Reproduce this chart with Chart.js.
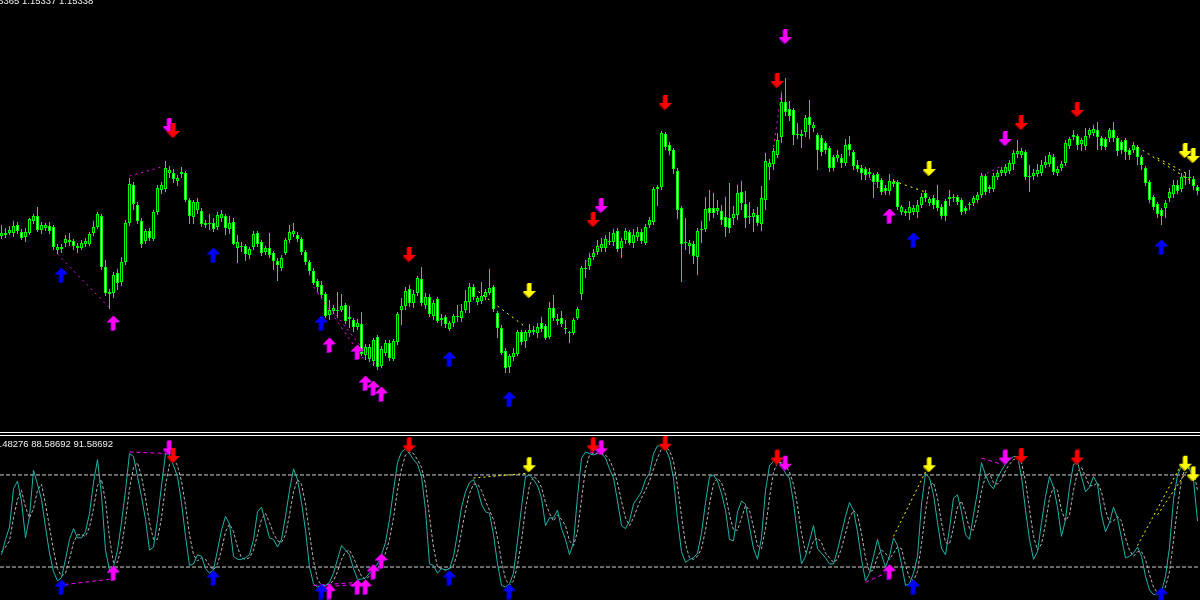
<!DOCTYPE html>
<html>
<head>
<meta charset="utf-8">
<script src="https://cdn.jsdelivr.net/npm/chart.js@4.4.0/dist/chart.umd.min.js"></script>
<style>
  html, body { margin: 0; padding: 0; background: #000; overflow: hidden; }
  #wrap { position: relative; width: 1200px; height: 600px; overflow: hidden; }
  #mainChart { position: absolute; left: 0; top: 0; }
  #sep { position: absolute; left: 0; top: 432px; width: 1200px; height: 2px; border-top: 1px solid #fff; border-bottom: 1px solid #fff; }
  #stochChart { position: absolute; left: 0; top: 436px; }
  .info { position: absolute; color: #f0f0f0; font: 9.5px 'Liberation Sans', sans-serif; line-height: 10px; white-space: pre; }
</style>
</head>
<body>
<div id="wrap">
  <canvas id="mainChart" width="1200" height="432"></canvas>
  <div id="sep"></div>
  <canvas id="stochChart" width="1200" height="164"></canvas>
  <div class="info" id="priceInfo" style="left:-15px; top:-4px;"></div>
  <div class="info" id="stochInfo" style="left:-11px; top:439px;"></div>
</div>
<script>
// price bars (points above the window floor), one per bar, oldest first
var open = [
  214,215,217,217,225,218,213,217,229,234, 220,222,224,223,200,201,207,208,209,202,
  202,206,206,217,223,234,183,156,157,177, 168,188,227,265,245,229,209,219,211,238,
  260,261,277,277,269,276,277,250,233,240, 239,225,226,227,223,232,234,221,228,202,
  203,204,195,203,217,208,198,202,197,189, 182,197,210,216,215,211,198,188,179,169,
  165,156,135,139,139,140,145,131,130,123, 126,95,91,89,113,84,97,107,91,108,
  140,144,161,147,157,171,145,153,134,151, 130,133,121,127,133,132,140,148,163,148,
  149,153,157,163,137,122,99,83,93,96, 118,109,117,118,117,127,124,113,142,129,
  132,121,117,117,132,156,181,184,193,198, 202,202,208,208,219,202,210,218,207,213,
  218,207,225,228,261,263,316,305,300,279, 242,207,204,206,193,220,221,242,242,239,
  239,233,232,232,235,258,246,233,233,235, 226,250,283,286,295,313,348,341,340,315,
  314,318,333,322,315,312,307,302,293,292, 292,287,306,298,285,282,281,278,275,276,
  270,262,259,266,268,238,237,237,238,238, 245,257,247,252,250,243,249,251,252,253,
  250,242,245,247,250,255,274,261,261,273, 277,277,279,286,296,295,298,273,274,276,
  277,285,286,293,277,282,287,304,313,314, 306,304,315,317,320,312,311,312,320,312,
  308,310,300,300,303,293,282,268,253,246, 240,242,252,256,265,261,272,272,271,263
];
var high = [
  225,222,224,229,228,221,222,232,236,243, 228,227,228,225,206,206,215,217,211,207,
  210,212,218,229,238,236,190,161,178,181, 193,230,272,268,248,232,221,222,240,265,
  268,289,284,281,275,283,279,252,250,252, 242,230,236,232,238,240,236,234,232,215,
  208,206,203,219,219,210,204,217,199,192, 195,212,225,227,218,213,200,190,182,171,
  169,158,150,145,158,156,147,144,132,131, 138,106,106,112,115,104,110,110,111,138,
  152,163,165,160,174,183,157,156,150,153, 136,135,129,136,145,146,160,167,166,154,
  168,161,181,165,139,125,102,96,102,120, 120,120,126,124,127,133,126,148,155,136,
  139,130,119,132,143,184,190,197,201,210, 212,215,218,221,222,212,222,220,221,223,
  221,226,233,263,265,319,318,308,302,282, 244,232,210,209,222,229,253,260,257,250,
  245,253,267,244,265,269,259,248,241,243, 264,297,291,302,317,358,372,349,342,327,
  320,335,350,328,317,315,309,304,295,300, 296,311,314,300,290,285,283,282,277,278,
  272,265,276,271,270,245,241,249,245,250, 257,260,253,255,265,246,251,260,256,255,
  252,244,248,254,258,277,276,265,277,280, 283,286,290,300,310,302,300,285,281,286,
  290,294,298,296,284,289,310,313,320,316, 312,322,322,325,328,314,313,322,328,314,
  310,312,302,308,305,295,284,270,255,248, 242,250,262,270,270,277,277,280,274,265
];
var low = [
  211,212,215,213,216,210,208,215,226,218, 216,219,216,200,196,197,203,204,200,197,
  200,203,204,214,221,180,154,141,152,160, 164,185,224,240,226,202,206,209,209,235,
  256,258,272,267,264,272,248,226,226,236, 223,222,220,218,220,228,215,216,205,187,
  198,189,191,200,203,194,195,192,180,169, 179,195,207,213,208,195,185,175,165,158,
  152,132,130,136,132,138,126,122,118,120, 94,90,88,84,80,82,94,89,89,105,
  125,140,143,142,154,144,141,133,130,127, 124,122,119,123,128,128,137,137,150,145,
  146,150,155,138,112,95,77,77,89,94, 105,102,113,115,112,118,110,111,129,125,
  123,116,107,115,130,150,172,180,190,195, 198,198,205,204,198,192,206,205,202,209,
  206,205,222,225,244,260,300,295,276,231, 168,200,196,186,175,207,218,229,232,235,
  225,213,217,225,230,240,222,226,218,224, 219,240,270,280,292,307,334,329,305,311,
  302,313,311,318,280,294,296,278,279,288, 282,284,294,280,278,270,270,272,252,262,
  255,255,255,263,240,235,234,230,235,232, 242,248,244,241,239,231,229,244,248,245,
  235,236,240,244,247,252,255,257,258,270, 274,274,276,280,292,292,270,258,270,273,
  274,282,283,275,274,279,284,301,310,300, 299,300,312,314,300,300,300,308,308,294,
  296,290,290,297,285,280,264,247,240,232, 225,232,248,252,256,258,265,266,260,255
];
var close = [
  217,217,220,224,219,212,218,231,234,220, 225,225,219,203,203,203,211,210,204,204,
  207,209,216,223,236,183,157,158,175,167, 188,227,266,246,229,206,219,212,238,262,
  265,282,280,271,272,278,250,234,248,248, 226,227,227,221,235,236,222,227,206,208,
  204,196,201,216,206,197,202,195,189,185, 192,210,218,219,211,198,188,179,167,163,
  155,134,140,142,140,144,129,133,123,127, 96,103,103,110,83,101,107,92,109,136,
  144,159,147,156,172,147,153,136,147,129, 132,126,127,134,134,139,149,163,153,152,
  154,158,162,141,122,97,82,94,97,118, 108,118,120,120,123,121,112,142,132,131,
  126,122,118,130,141,182,182,192,197,204, 206,211,209,217,201,209,219,207,215,218,
  209,223,230,261,263,317,303,299,281,240, 206,208,207,194,219,221,241,237,237,242,
  230,223,222,236,257,247,232,234,237,227, 252,289,287,299,310,348,338,334,315,316,
  316,332,325,325,300,298,300,282,282,295, 287,305,300,284,281,277,275,276,268,268,
  258,259,269,268,243,243,239,243,242,245, 253,252,251,245,242,234,234,253,253,248,
  238,239,246,252,255,274,258,263,274,277, 280,283,287,297,299,299,273,274,277,280,
  285,288,295,278,281,286,307,311,315,305, 310,314,320,321,313,304,303,320,312,299,
  300,298,295,305,293,285,267,250,243,236, 234,247,258,265,259,273,273,273,264,259
];

// stochastic main (%K) and signal (%D) lines, per bar
var stochK = [
  28,38,46,71,76,63,39,53,83,74, 64,46,29,17,11,13,25,38,45,39,
  39,43,55,75,90,67,31,18,20,31, 49,70,94,92,79,66,51,31,33,51,
  73,94,93,86,79,62,40,21,22,28, 27,19,16,18,31,44,53,48,27,25,
  25,26,28,38,56,59,49,39,38,33, 38,53,70,84,77,62,44,20,9,7,
  8,8,10,16,25,34,31,28,19,12, 12,13,16,19,22,28,36,51,70,88,
  95,97,94,90,87,79,57,22,21,16, 19,18,19,27,42,59,69,75,77,71,
  61,56,55,41,22,8,7,9,16,37, 59,79,80,77,73,65,47,52,52,57,
  45,38,28,36,66,91,95,94,93,94, 94,91,84,78,63,47,45,50,61,65,
  69,77,81,94,99,99,97,91,78,51, 30,23,25,26,29,42,62,79,80,76,
  68,57,38,37,56,63,61,46,32,25, 39,70,86,89,89,87,81,78,62,41,
  22,27,37,47,32,29,26,22,22,31, 42,53,62,57,43,25,11,16,27,38,
  28,20,27,39,34,22,8,9,16,27, 61,81,78,67,49,32,28,45,65,67,
  56,41,38,54,69,88,80,74,71,78, 83,87,90,92,92,79,57,38,25,30,
  49,66,79,72,59,40,51,72,87,88, 79,69,72,79,74,54,43,49,59,52,
  39,26,27,29,33,27,14,5,2,2, 4,14,33,64,80,86,88,84,77,50
];
var stochD = [
  30,33,37,52,64,70,59,52,58,70, 74,61,46,31,19,14,16,25,36,41,
  41,40,46,58,73,77,63,39,23,23, 33,50,71,85,88,79,65,49,38,38,
  52,73,87,91,86,76,60,41,28,24, 26,25,21,18,22,31,43,48,43,33,
  26,25,26,31,41,51,55,49,42,37, 36,41,54,69,77,74,61,42,24,12,
  8,8,9,11,17,25,30,31,26,20, 14,12,14,16,19,23,29,38,52,70,
  84,93,95,94,90,85,74,53,33,20, 19,18,19,21,29,43,57,68,74,74,
  70,63,57,51,39,24,12,8,11,21, 37,58,73,79,77,72,62,55,50,54,
  51,47,37,34,43,64,84,93,94,94, 94,93,90,84,75,63,52,47,52,59,
  65,70,76,84,91,97,98,96,89,73, 53,35,26,25,27,32,44,61,74,78,
  75,67,54,44,44,52,60,57,46,34, 32,45,65,82,88,88,86,82,74,60,
  42,30,29,37,39,36,29,26,23,25, 32,42,52,57,54,42,26,17,18,27,
  31,29,25,29,33,32,21,13,11,17, 35,56,73,75,65,49,36,35,46,59,
  63,55,45,44,54,70,79,81,75,74, 77,83,87,90,91,88,76,58,40,31,
  35,48,65,72,70,57,50,54,70,82, 85,79,73,73,75,69,57,49,50,53,
  50,39,31,27,30,30,25,15,7,3, 3,7,17,37,59,77,85,86,83,70
];
var stochLevels = [80, 20];

// signal arrows: [bar, price] on the price window
var blueUp = [[15,175],[53,195],[80,127],[112,91],[127,51],[228,210],[290,203]];
var pinkUp = [[28,127],[82,105],[89,98],[91,67],[93,62],[95,56],[222,234]];
var redDown = [[43,320],[102,196],[148,231],[166,348],[194,370],[255,328],[269,341]];
var pinkDown = [[42,325],[150,245],[196,414],[251,312]];
var yellowDown = [[132,160],[232,282],[296,300],[298,295]];

// the same signals on the stochastic window: [bar, value]
var stBlueUp = [[15,7],[53,13],[80,4],[112,13],[127,4],[228,7],[290,2]];
var stPinkUp = [[28,16],[82,4],[89,7],[91,7],[93,17],[95,24],[222,17]];
var stRedDown = [[43,93],[102,100],[148,100],[166,101],[194,92],[255,93],[269,92]];
var stPinkDown = [[42,98],[150,98],[196,88],[251,92]];
var stYellowDown = [[132,87],[232,87],[296,88],[298,81]];

// divergence segments
var pinkLines = [[[14,196],[27,142]], [[32,274],[40,283]], [[78,163],[94,83]], [[79,157],[91,88]],
                 [[146,188],[150,206]], [[193,303],[195,358]], [[216,275],[221,257]], [[245,274],[250,284]]];
var yellowLines = [[[118,162],[131,123]], [[223,269],[231,258]], [[284,303],[299,265]], [[289,292],[297,275]]];
var stPinkLines = [[[32,95],[41,94]], [[14,8],[27,12]], [[78,8],[89,10]], [[80,7],[91,9]],
                   [[147,95],[150,94]], [[216,10],[221,16]], [[245,91],[250,87]]];
var stYellowLines = [[[118,78],[131,81]], [[223,40],[231,82]], [[284,34],[295,87]], [[289,54],[297,85]]];

var priceText = '1.15365 1.15337 1.15338';
var stochText = '86.48276 88.58692 91.58692';

document.getElementById('priceInfo').textContent = priceText;
document.getElementById('stochInfo').textContent = stochText;

// chunky pixel arrow like the terminal's wingdings glyph, with a darker edge
function makeArrow(color, shade, up) {
    var c = document.createElement('canvas');
    c.width = 14; c.height = 16;
    var g = c.getContext('2d');
    var rows = [[5,2],[4,4],[3,6],[2,8],[1,10],[0,12],[4,4],[4,4],[4,4],[4,4],[4,4],[4,4],[4,4],[4,4]];
    function paint(col, dx, dy) {
        g.fillStyle = col;
        rows.forEach(function (r, k) {
            var y = up ? k : rows.length - 1 - k;
            g.fillRect(r[0] + dx, y + dy + 1, r[1], 1);
        });
    }
    paint(shade, 0, 1);
    paint(color, 1, 0);
    return c;
}

var imgBlueUp = makeArrow('#0000ff', '#0000a0', true);
var imgPinkUp = makeArrow('#ff00ff', '#9000c0', true);
var imgRedDown = makeArrow('#ff0000', '#a00000', false);
var imgPinkDown = makeArrow('#ff00ff', '#9000c0', false);
var imgYellowDown = makeArrow('#ffff00', '#b0a000', false);

function arrowSet(points, img) {
    return {
        type: 'line',
        data: points.map(function (p) { return { x: p[0], y: p[1] }; }),
        showLine: false,
        pointStyle: img,
        pointRadius: 7,
        clip: false,
        order: 0
    };
}

function lineSets(segs, color, dash) {
    return segs.map(function (seg) {
        return {
            type: 'line',
            data: seg.map(function (p) { return { x: p[0], y: p[1] }; }),
            borderColor: color,
            borderWidth: 1,
            borderDash: dash,
            pointRadius: 0,
            order: 1
        };
    });
}

var wickData = open.map(function (o, i) { return { x: i, y: [low[i], high[i]] }; });
var bodyData = open.map(function (o, i) { return { x: i, y: [o, close[i]] }; });
var bodyFill = open.map(function (o, i) { return close[i] >= o ? '#000000' : '#ffffff'; });

var xScale = { type: 'linear', min: -0.375, max: 299.625, display: false, offset: false };
var noPad = { padding: 0, autoPadding: false };

new Chart(document.getElementById('mainChart').getContext('2d'), {
    type: 'bar',
    data: {
        datasets: [
            {
                data: wickData,
                backgroundColor: '#00ff00',
                borderWidth: 0,
                barThickness: 1,
                grouped: false,
                inflateAmount: 0,
                order: 3
            },
            {
                data: bodyData,
                backgroundColor: bodyFill,
                borderColor: '#00ff00',
                borderWidth: 1,
                borderSkipped: false,
                barThickness: 3,
                grouped: false,
                inflateAmount: 0,
                order: 2
            }
        ].concat(lineSets(pinkLines, '#ff00ff', [2, 4]))
         .concat(lineSets(yellowLines, '#ffff00', [2, 4]))
         .concat([
            arrowSet(blueUp, imgBlueUp),
            arrowSet(pinkUp, imgPinkUp),
            arrowSet(redDown, imgRedDown),
            arrowSet(pinkDown, imgPinkDown),
            arrowSet(yellowDown, imgYellowDown)
         ])
    },
    options: {
        responsive: false,
        animation: false,
        events: [],
        layout: noPad,
        plugins: { legend: { display: false }, tooltip: { enabled: false } },
        scales: {
            x: xScale,
            y: { min: 18, max: 450, display: false }
        }
    }
});

var barIdx = stochK.map(function (v, i) { return i; });

new Chart(document.getElementById('stochChart').getContext('2d'), {
    type: 'line',
    data: {
        datasets: [
            {
                data: barIdx.map(function (i) { return { x: i, y: stochK[i] }; }),
                borderColor: '#20b2aa',
                borderWidth: 1,
                pointRadius: 0,
                tension: 0,
                order: 2
            },
            {
                data: barIdx.map(function (i) { return { x: i, y: stochD[i] }; }),
                borderColor: '#b4b4b4',
                borderWidth: 1,
                borderDash: [3, 2],
                pointRadius: 0,
                tension: 0,
                order: 3
            }
        ].concat(stochLevels.map(function (lv) {
            return {
                data: [{ x: -0.375, y: lv }, { x: 299.625, y: lv }],
                borderColor: '#d0d0d0',
                borderWidth: 1,
                borderDash: [4, 2],
                pointRadius: 0,
                order: 4
            };
        }))
         .concat(lineSets(stPinkLines, '#ff00ff', [4, 3]))
         .concat(lineSets(stYellowLines, '#ffff00', [2, 3]))
         .concat([
            arrowSet(stBlueUp, imgBlueUp),
            arrowSet(stPinkUp, imgPinkUp),
            arrowSet(stRedDown, imgRedDown),
            arrowSet(stPinkDown, imgPinkDown),
            arrowSet(stYellowDown, imgYellowDown)
         ])
    },
    options: {
        responsive: false,
        animation: false,
        events: [],
        layout: noPad,
        plugins: { legend: { display: false }, tooltip: { enabled: false } },
        scales: {
            x: xScale,
            y: { min: -1.5, max: 105.4, display: false }
        }
    }
});
</script>
</body>
</html>
